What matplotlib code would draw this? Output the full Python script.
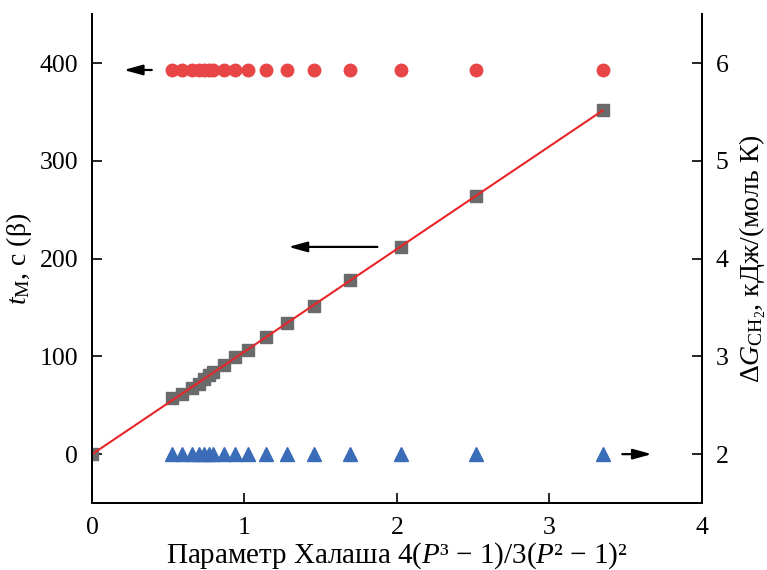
import numpy as np
import matplotlib
matplotlib.use('Agg')
import matplotlib.pyplot as plt

plt.rcParams['font.family'] = ['Liberation Serif', 'DejaVu Serif']
plt.rcParams['mathtext.fontset'] = 'custom'
plt.rcParams['mathtext.rm'] = 'Liberation Serif'
plt.rcParams['mathtext.it'] = 'Liberation Serif:italic'
plt.rcParams['mathtext.bf'] = 'Liberation Serif:bold'

# Halasz parameter values
halasz = [0.526, 0.592, 0.658, 0.704, 0.737, 0.770, 0.796, 0.868, 0.941,
          1.026, 1.138, 1.276, 1.454, 1.691, 2.026, 2.520, 3.349]
# retention time t_M, s (beta) - squares
t_m = [57, 62, 68, 72, 77, 81, 84, 91, 99, 107, 120, 134, 152, 178, 212, 264, 352]
# circles (left axis)
circles = [393] * len(halasz)
# dG_CH2, kJ/(mol K) - triangles (right axis)
dg_ch2 = [2.0] * len(halasz)

sq_x = [0.0] + halasz
sq_y = [0.0] + t_m

fig = plt.figure(figsize=(7.67, 5.70), dpi=100)
ax = fig.add_axes([0.120, 0.1175, 0.795, 0.8575])
ax2 = ax.twinx()

coef = np.polyfit(sq_x, sq_y, 1)
xl = np.array([0, sq_x[-1]])
ax.plot(xl, np.polyval(coef, xl), color='#e8262a', lw=1.5, zorder=3)
ax.plot(sq_x, sq_y, 's', color='#6a6a6a', ms=8.5, zorder=2)
ax.plot(halasz, circles, 'o', color='#e84646', ms=9, zorder=2)
ax2.plot(halasz, dg_ch2, '^', color='#3a6cb8', ms=10.5, zorder=2)

ax.set_xlim(0, 4)
ax.set_ylim(-50, 450)
ax2.set_ylim(1.5, 6.5)
ax.set_xticks([0, 1, 2, 3, 4])
ax.set_yticks([0, 100, 200, 300, 400])
ax2.set_yticks([2, 3, 4, 5, 6])

for a in (ax, ax2):
    a.spines['top'].set_visible(False)
    for s in a.spines.values():
        s.set_linewidth(1.3)
    a.tick_params(direction='in', length=7, width=1.2, labelsize=18.5, pad=10)

arr = dict(arrowstyle='-|>,head_length=0.8,head_width=0.22', color='black',
           lw=1.6, mutation_scale=14)
ax.annotate('', xy=(0.19, 393), xytext=(0.41, 393), arrowprops=arr)
ax.annotate('', xy=(1.27, 212), xytext=(1.89, 212), arrowprops=arr)
ax2.annotate('', xy=(3.69, 2.0), xytext=(3.46, 2.0), arrowprops=arr)

ax.set_xlabel('Параметр Халаша 4($P$³ − 1)/3($P$² − 1)²', fontsize=21)
ax.xaxis.set_label_coords(0.5, -0.076)
ax.set_ylabel('$t_{\\mathrm{М}}$, с (β)', fontsize=20, labelpad=4)
ax2.set_ylabel('$\\Delta G_{\\mathrm{CH}_2}$, кДж/(моль К)', fontsize=20, labelpad=6)

fig.savefig('out.png', dpi=100)
